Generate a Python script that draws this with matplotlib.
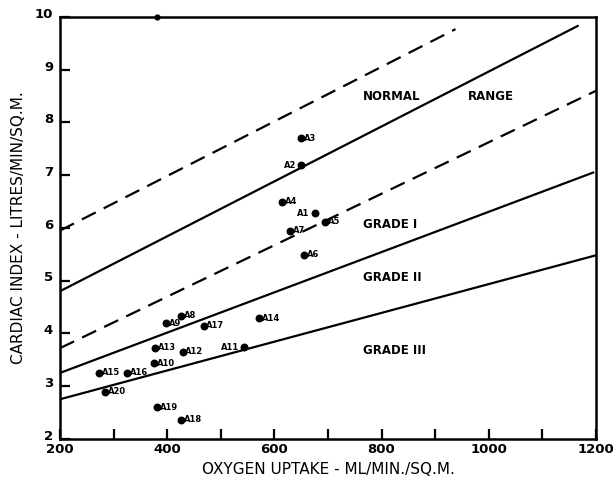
import matplotlib
matplotlib.use("Agg")
from matplotlib import pyplot as plt
from matplotlib import transforms

# patient points (oxygen uptake, cardiac index)
labels = ["A1", "A2", "A3", "A4", "A5", "A6", "A7", "A8", "A9", "A10",
          "A11", "A12", "A13", "A14", "A15", "A16", "A17", "A18", "A19", "A20"]
oxygen = [675, 650, 650, 615, 695, 656, 629, 426, 398, 376,
          544, 429, 378, 571, 273, 325, 468, 426, 381, 284]
cardiac = [6.28, 7.19, 7.70, 6.50, 6.12, 5.49, 5.95, 4.33, 4.19, 3.43,
           3.74, 3.65, 3.73, 4.29, 3.25, 3.25, 4.14, 2.36, 2.60, 2.89]
left_labels = ["A1", "A2", "A11"]

# boundary lines (x start, x end, y start, y end)
upper_dashed = ([200, 938], [5.95, 9.77])
upper_solid = ([200, 1166], [4.80, 9.83])
lower_dashed = ([200, 1200], [3.72, 8.60])
grade_1_2 = ([200, 1195], [3.25, 7.05])
grade_2_3 = ([200, 1200], [2.75, 5.48])

fig = plt.figure(figsize=(6.13, 4.87), dpi=100)
ax = fig.add_axes([0.098, 0.099, 0.874, 0.866])

ax.plot(*upper_dashed, color="black", lw=1.6, dashes=(7, 4))
ax.plot(*upper_solid, color="black", lw=1.6)
ax.plot(*lower_dashed, color="black", lw=1.6, dashes=(7, 4))
ax.plot(*grade_1_2, color="black", lw=1.6)
ax.plot(*grade_2_3, color="black", lw=1.6)

ax.scatter(oxygen, cardiac, s=22, color="black", zorder=3)
ax.scatter([381], [10], s=12, color="black", zorder=3, clip_on=False)

for name, x, y in zip(labels, oxygen, cardiac):
    if name in left_labels:
        ax.text(x - 9, y, name, fontsize=6, fontweight="bold",
                ha="right", va="center")
    else:
        ax.text(x + 5, y, name, fontsize=6, fontweight="bold",
                ha="left", va="center")

ax.text(765, 8.5, "NORMAL", fontsize=8.5, fontweight="bold", va="center")
ax.text(962, 8.5, "RANGE", fontsize=8.5, fontweight="bold", va="center")
ax.text(765, 6.06, "GRADE I", fontsize=8.5, fontweight="bold", va="center")
ax.text(765, 5.06, "GRADE II", fontsize=8.5, fontweight="bold", va="center")
ax.text(765, 3.68, "GRADE III", fontsize=8.5, fontweight="bold", va="center")

ax.set_xlim(200, 1200)
ax.set_ylim(2, 10)
ax.set_xticks([200, 400, 600, 800, 1000, 1200])
ax.set_xticks([300, 500, 700, 900, 1100], minor=True)
ax.set_yticks(range(2, 11))
ax.tick_params(axis="both", which="both", direction="in", length=7,
               width=1.6, labelsize=9.5, pad=3)
ax.tick_params(axis="y", pad=5)

# nudge y labels up a little so "2" clears "200"
shift = transforms.ScaledTranslation(0, 3 / 72, fig.dpi_scale_trans)
for lab in ax.get_yticklabels():
    lab.set_transform(lab.get_transform() + shift)
for lab in ax.get_xticklabels() + ax.get_yticklabels():
    lab.set_fontweight("bold")
ax.get_xticklabels()[-1].set_ha("center")

for side in ax.spines.values():
    side.set_linewidth(1.8)

ax.set_xlabel("OXYGEN UPTAKE - ML/MIN./SQ.M.", fontsize=11, labelpad=4)
ax.set_ylabel("CARDIAC INDEX - LITRES/MIN/SQ.M.", fontsize=11, labelpad=6)

plt.savefig("out.png", dpi=100)
